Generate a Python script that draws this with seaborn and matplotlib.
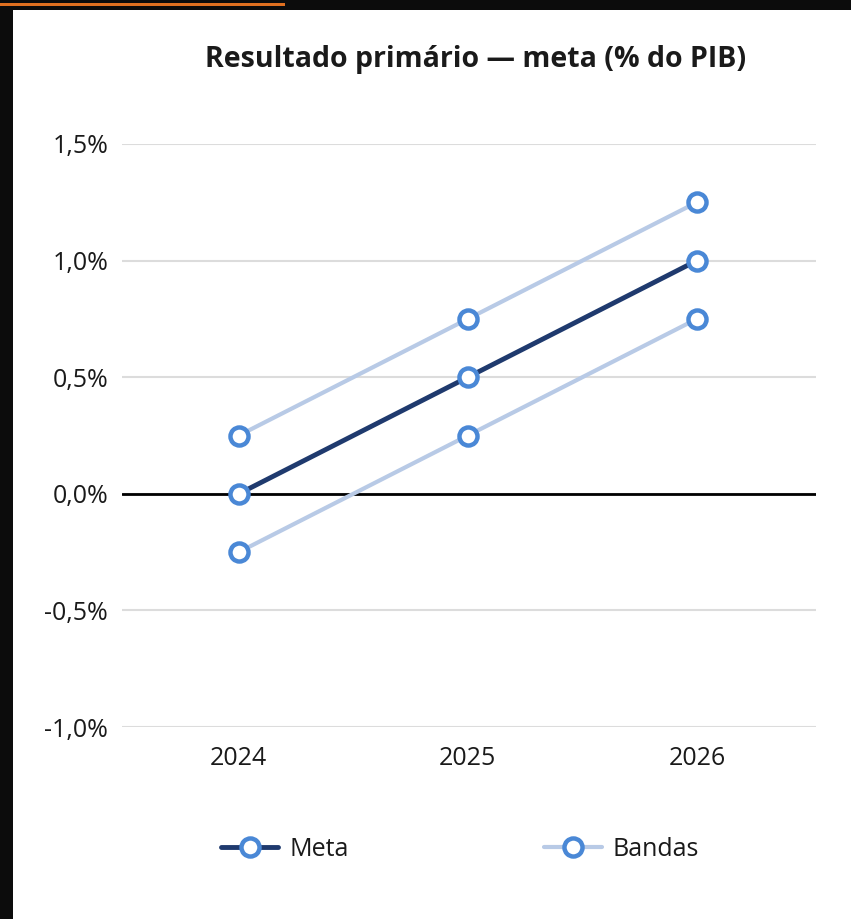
import matplotlib
matplotlib.use("Agg")
import matplotlib.pyplot as plt
import seaborn as sns
import pandas as pd
from matplotlib.lines import Line2D
from matplotlib.patches import Rectangle

years = ["2024", "2025", "2026"]
meta = [0.0, 0.5, 1.0]
banda_sup = [0.25, 0.75, 1.25]
banda_inf = [-0.25, 0.25, 0.75]
yticks = [-1.0, -0.5, 0.0, 0.5, 1.0, 1.5]
ytick_labels = ["-1,0%", "-0,5%", "0,0%", "0,5%", "1,0%", "1,5%"]
title = "Resultado primário — meta (% do PIB)"

sns.set_theme(style="white")
plt.rcParams['font.family'] = ['Open Sans', 'DejaVu Sans']

C_META = "#1f3a6e"
C_BAND = "#b8cae6"
C_MARK = "#4a88d6"
C_TEXT = "#1a1a1a"

fig = plt.figure(figsize=(8.51, 9.19), dpi=100)
fig.patch.set_facecolor("#0c0c0c")
fig.patches.append(Rectangle((13/851, 0), 1 - 13/851, 1 - 10/919,
                             transform=fig.transFigure, facecolor="white",
                             edgecolor="none", zorder=-5))
fig.patches.append(Rectangle((0, 1 - 6/919), 285/851, 3/919,
                             transform=fig.transFigure, facecolor="#e07020",
                             edgecolor="none", zorder=-4))

ax = fig.add_axes([122/851, 1 - 727/919, (816 - 122)/851, (727 - 144)/919])
ax.set_zorder(5)
ax.set_facecolor("white")

df = pd.DataFrame({"x": list(range(len(years))), "meta": meta,
                   "sup": banda_sup, "inf": banda_inf})

mk = dict(marker="o", markersize=13, markerfacecolor="white",
          markeredgecolor=C_MARK, markeredgewidth=3.2)

for ycol, c, lw, z in [("sup", C_BAND, 3, 3), ("inf", C_BAND, 3, 3), ("meta", C_META, 3.5, 4)]:
    sns.lineplot(data=df, x="x", y=ycol, ax=ax, color=c, linewidth=lw, zorder=z,
                 legend=False, **mk)

ax.set_xlim(-0.51, 2.52)
ax.set_ylim(-1.0, 1.5)
ax.set_xticks(range(len(years)))
ax.set_xticklabels(years)
ax.set_yticks(yticks)
ax.set_yticklabels(ytick_labels)
ax.grid(axis="y", color="#dcdcdc", linewidth=1.5)
ax.set_axisbelow(True)
ax.axhline(0, color="black", linewidth=2, zorder=2)
for s in ax.spines.values():
    s.set_visible(False)
ax.tick_params(axis="both", length=0, labelsize=18, colors=C_TEXT)
ax.tick_params(axis="x", pad=14)
ax.tick_params(axis="y", pad=10)
ax.set_xlabel("")
ax.set_ylabel("")

fig.text(476/851, 1 - 60/919, title, ha="center", va="center",
         fontsize=20.5, fontweight="bold", color=C_TEXT)

handles = [Line2D([0], [0], color=C_META, linewidth=3.5, **mk),
           Line2D([0], [0], color=C_BAND, linewidth=3, **mk)]
leg = fig.legend(handles, ["Meta", "Bandas"], loc="center",
                 bbox_to_anchor=(460/851, 1 - 849/919), ncol=2, frameon=False,
                 fontsize=18, columnspacing=7.8, handlelength=2.3, handletextpad=0.45)
for t in leg.get_texts():
    t.set_color(C_TEXT)

fig.savefig("out.png", dpi=100, facecolor=fig.get_facecolor())
